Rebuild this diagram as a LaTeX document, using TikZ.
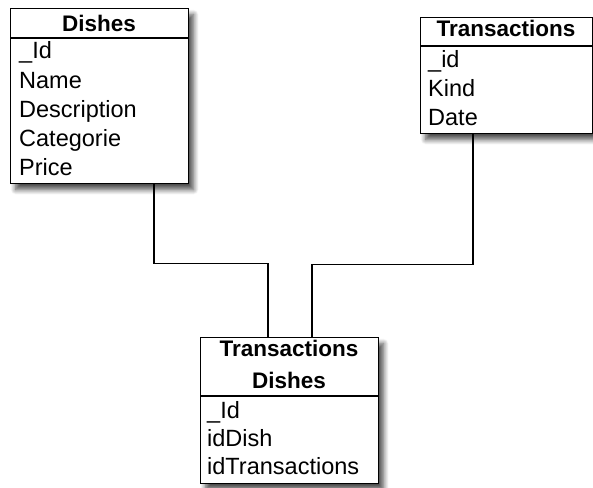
\documentclass[tikz,border=0pt]{standalone}
\usepackage{fontspec}
\setmainfont{Liberation Sans}
\usetikzlibrary{shadows.blur}

\begin{document}
\begin{tikzpicture}[x=1pt,y=-1pt]
  \tikzset{
    table/.style={draw=black, line width=1.2pt, fill=white, anchor=north west,
      inner sep=0pt, blur shadow={shadow xshift=5pt, shadow yshift=-6pt,
      shadow blur steps=8, shadow blur radius=5pt, shadow opacity=70}},
    head/.style={font=\fontsize{22.5}{24}\selectfont\bfseries, anchor=base, inner sep=0pt},
    field/.style={font=\fontsize{23.5}{24}\selectfont, anchor=base west, inner sep=0pt},
    link/.style={draw=black, line width=1.2pt}
  }
  \useasboundingbox (0,0) rectangle (593,487);

  % tables
  \node [table, minimum width=178pt, minimum height=175pt] (dishes) at (10,8) {};
  \draw [link] (10,38) -- (188,38);
  \node [head] (dishesH) at (99,32) {Dishes};
  \node [field] (dId) at (19,59) {\_Id};
  \node [field] (dName) at (19,88) {Name};
  \node [field] (dDesc) at (19,117) {Description};
  \node [field] (dCat) at (19,146) {Categorie};
  \node [field] (dPrice) at (19,175) {Price};

  \node [table, minimum width=172pt, minimum height=116pt] (trans) at (420,17) {};
  \draw [link] (420,46) -- (592,46);
  \node [head] (transH) at (506,37) {Transactions};
  \node [field] (tId) at (428,67) {\_id};
  \node [field] (tKind) at (428,96) {Kind};
  \node [field] (tDate) at (428,125) {Date};

  \node [table, minimum width=178pt, minimum height=146pt] (transdish) at (200,337) {};
  \draw [link] (200,396) -- (378,396);
  \node [head] (tdH1) at (289,356) {Transactions};
  \node [head] (tdH2) at (289,388) {Dishes};
  \node [field] (tdId) at (207,418) {\_Id};
  \node [field] (tdDish) at (207,446) {idDish};
  \node [field] (tdTrans) at (207,474) {idTransactions};

  % relations
  \draw [link] ([xshift=144pt]dishes.south west) -- ++(0,79) -| ([xshift=68pt]transdish.north west);
  \draw [link] ([xshift=53pt]trans.south west) -- ++(0,130) -| ([xshift=112pt]transdish.north west);
\end{tikzpicture}
\end{document}
